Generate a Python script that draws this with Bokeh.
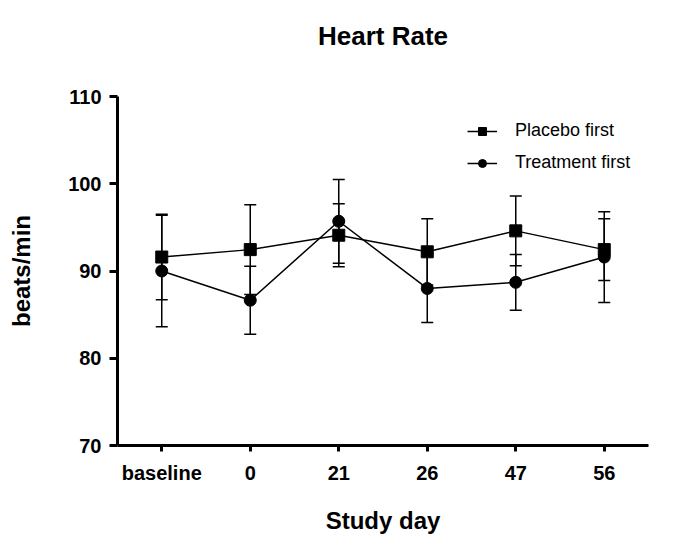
from bokeh.plotting import figure
from bokeh.models import (ColumnDataSource, Whisker, FixedTicker, Range1d, FactorRange,
                          Legend, LegendItem, LinearAxis)
from bokeh.embed import file_html
from bokeh.resources import INLINE

# Study days (categorical x axis)
days = ["baseline", "0", "21", "26", "47", "56"]

# Mean heart rate (beats/min) and error (SD) per group
placebo_mean = [91.6, 92.45, 94.1, 92.2, 94.6, 92.45]
placebo_err = [4.9, 5.15, 3.6, 3.8, 4.0, 3.55]
treatment_mean = [90.0, 86.65, 95.7, 88.0, 88.7, 91.6]
treatment_err = [6.4, 3.9, 4.8, 3.9, 3.2, 5.2]

y_ticks = [70, 80, 90, 100, 110]

FONT = "Liberation Sans"

def make_source(mean, err):
    return ColumnDataSource(dict(
        day=days,
        mean=mean,
        upper=[m + e for m, e in zip(mean, err)],
        lower=[m - e for m, e in zip(mean, err)],
    ))

src_p = make_source(placebo_mean, placebo_err)
src_t = make_source(treatment_mean, treatment_err)

p = figure(
    width=693, height=548,
    x_range=FactorRange(*days, range_padding=0),
    y_range=Range1d(70, 110),
    output_backend="svg", toolbar_location=None,
    min_border_left=117, min_border_right=45,
    min_border_top=96, min_border_bottom=103,
)
p.outline_line_color = None
p.grid.grid_line_color = None
p.background_fill_color = "white"
p.border_fill_color = "white"

# Chart title: label of a bare, tickless axis above the frame
title_axis = LinearAxis(
    ticker=FixedTicker(ticks=[]),
    axis_label="Heart Rate",
    axis_line_color=None, major_tick_line_color=None, minor_tick_line_color=None,
    major_label_standoff=0, major_tick_out=0, major_tick_in=0,
    axis_label_standoff=46,
    axis_label_text_color="black", axis_label_text_font=FONT,
    axis_label_text_font_size="26px", axis_label_text_font_style="bold",
)
p.add_layout(title_axis, "above")

# Error bars
for src in (src_p, src_t):
    w = Whisker(source=src, base="day", upper="upper", lower="lower",
                line_color="black", line_width=1.5)
    w.upper_head.size = 12
    w.lower_head.size = 12
    w.upper_head.line_width = 1.5
    w.lower_head.line_width = 1.5
    p.add_layout(w)

lp = p.line("day", "mean", source=src_p, line_color="black", line_width=1.5)
mp = p.scatter("day", "mean", source=src_p, marker="square", size=12,
               fill_color="black", line_color="black")
lt = p.line("day", "mean", source=src_t, line_color="black", line_width=1.5)
mt = p.scatter("day", "mean", source=src_t, marker="circle", size=12,
               fill_color="black", line_color="black")

legend = Legend(items=[
    LegendItem(label="Placebo first", renderers=[lp, mp]),
    LegendItem(label="Treatment first", renderers=[lt, mt]),
], location=(350, 272))
legend.border_line_color = None
legend.background_fill_alpha = 0
legend.label_text_font = FONT
legend.label_text_color = "black"
legend.label_text_font_size = "18px"
legend.glyph_width = 30
legend.label_standoff = 18
legend.spacing = 11
legend.padding = 0
legend.margin = 0
p.add_layout(legend, "center")

xa = p.below[0]
ya = p.left[0]
for ax in (xa, ya):
    ax.axis_line_width = 3
    ax.major_tick_line_width = 3
    ax.major_tick_in = 0
    ax.major_tick_out = 8
    ax.minor_tick_line_color = None
    ax.major_label_text_color = "black"
    ax.major_label_text_font = FONT
    ax.major_label_text_font_size = "20px"
    ax.major_label_text_font_style = "bold"
    ax.axis_label_text_color = "black"
    ax.axis_label_text_font = FONT
    ax.axis_label_text_font_size = "24px"
    ax.axis_label_text_font_style = "bold"

ya.ticker = FixedTicker(ticks=y_ticks)
ya.axis_label = "beats/min"
ya.major_label_standoff = 8
ya.axis_label_standoff = 30
xa.axis_label = "Study day"
xa.major_tick_out = 6
xa.major_label_standoff = 10
xa.axis_label_standoff = 20

open("out.html", "w").write(file_html(p, INLINE))
